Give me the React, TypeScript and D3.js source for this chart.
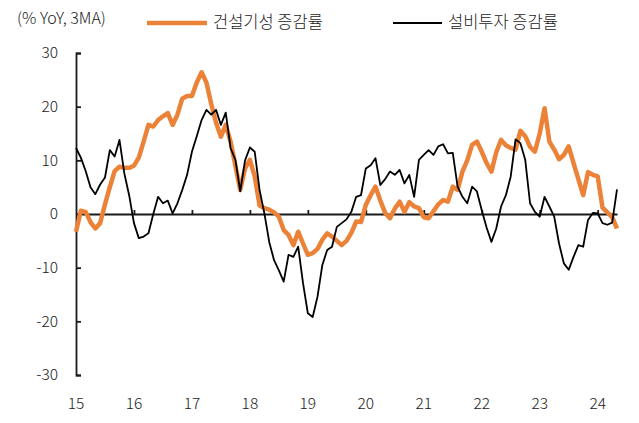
import { useEffect, useRef } from 'react';
import * as d3 from 'd3';

// monthly data, Jan 2015 .. May 2024 (% YoY, 3MA)
const yearLabels = ['15', '16', '17', '18', '19', '20', '21', '22', '23', '24'];
const yTicks = [-30, -20, -10, 0, 10, 20, 30];
const seriesNames = ['건설기성 증감률', '설비투자 증감률'];

const construction = [
    -3.3, 0.6, 0.4, -1.5, -2.7, -1.7, 1.8, 5, 8, 8.8, 8.6, 8.6,
    9, 10.5, 13.5, 16.6, 16.3, 17.5, 18.2, 18.8, 16.6, 18.5, 21.5, 22,
    22, 24.5, 26.4, 24.5, 20.5, 17, 14.4, 16.6, 13.5, 9, 4.5, 8.5,
    10.1, 7, 1.6, 1.1, 0.8, 0.3, -0.5, -3, -3.9, -5.8, -3.3, -5.5,
    -7.6, -7.3, -6.5, -4.8, -3.6, -4.2, -5, -5.8, -5, -3.5, -1.4, -1.5,
    1.7, 3.5, 5.1, 2.5, 0.2, -0.8, 1, 2.3, 0.4, 2.2, 1.4, 1.1,
    -0.6, -0.8, 0.5, 1.8, 2.6, 2.3, 5.1, 4.5, 7.9, 10, 12.9, 13.5,
    11.6, 9.5, 7.9, 11.5, 13.8, 12.8, 12.3, 12, 15.5, 14.5, 12.5, 11.6,
    15, 19.7, 13.5, 12, 10.2, 11, 12.6, 9.5, 6.5, 3.5, 7.8, 7.3,
    7, 1.2, 0.3, -0.6, -2.7,
];

const equipment = [
    12.3, 10.5, 8, 5, 3.7, 5.5, 6.8, 11.9, 10.7, 13.8, 7.6, 3.5,
    -1.7, -4.5, -4.2, -3.6, 0, 3.2, 2, 2.5, 0.1, 2, 4.5, 7.3,
    11.6, 14.5, 17.5, 19.4, 18.5, 19.4, 16.6, 18.9, 12.3, 10.1, 4.2, 10,
    12.4, 11.6, 4.5, 0.1, -5.2, -8.6, -10.5, -12.6, -7.6, -8, -6.1, -12.9,
    -18.5, -19.2, -15.4, -9.5, -6.7, -6.1, -2.4, -1.7, -1, 0.4, 3.2, 3.5,
    8.5, 9.1, 10.4, 5.4, 6.5, 7.9, 7.3, 8.2, 5.7, 7.3, 3.2, 10.1,
    11, 11.9, 11, 12.6, 13, 11.3, 11.4, 5.1, 3.2, 2, 5.1, 4.2,
    0.7, -2.5, -5.2, -2.7, 1.4, 3.5, 7, 13.9, 13.2, 10.1, 2, 0.4,
    -0.5, 3.2, 1.4, -0.5, -5.5, -9.2, -10.4, -8, -5.8, -6.1, -1.1, 0.2,
    0.1, -1.7, -2, -1.6, 4.6,
];

const width = 639;
const height = 423;
const plot = { left: 76, right: 617, top: 53, bottom: 375 };
const font = '"Noto Sans CJK KR", "Noto Sans", sans-serif';
const orange = '#EB8238';
const ink = '#1a1a1a';

const App = () => {
    const svgRef = useRef<SVGSVGElement>(null);

    useEffect(() => {
        const svg = d3.select(svgRef.current);
        svg.selectAll('*').remove();

        const last = construction.length - 1;
        const x = d3.scaleLinear().domain([0, last]).range([plot.left, plot.right]);
        const y = d3.scaleLinear().domain([-30, 30]).range([plot.bottom, plot.top]);

        // y axis, ticks pointing inside
        const yAxis = svg
            .append('g')
            .attr('transform', `translate(${plot.left},0)`)
            .call(d3.axisRight(y).tickValues(yTicks).tickSize(5).tickSizeOuter(5).tickFormat(() => ''));
        yAxis.selectAll('path, line').attr('stroke', ink).attr('stroke-width', 1.8);

        svg.append('g')
            .selectAll('text')
            .data(yTicks)
            .join('text')
            .attr('x', 58)
            .attr('y', d => y(d))
            .attr('dy', '0.35em')
            .attr('text-anchor', 'end')
            .attr('font-family', font)
            .attr('font-size', 15.5)
            .attr('font-weight', 300)
            .attr('fill', ink)
            .text(d => (d < 0 ? `-${-d}` : `${d}`));

        // zero line with year ticks
        const yearIdx = yearLabels.map((_, i) => i * 12);
        const xAxis = svg
            .append('g')
            .attr('transform', `translate(0,${y(0)})`)
            .call(d3.axisTop(x).tickValues(yearIdx.slice(1)).tickSize(4).tickSizeOuter(0).tickFormat(() => ''));
        xAxis.selectAll('path, line').attr('stroke', ink).attr('stroke-width', 1.8);

        svg.append('g')
            .selectAll('text')
            .data(yearLabels)
            .join('text')
            .attr('x', (_, i) => x(yearIdx[i]))
            .attr('y', 404)
            .attr('dy', '0.35em')
            .attr('text-anchor', 'middle')
            .attr('font-family', font)
            .attr('font-size', 15.5)
            .attr('font-weight', 300)
            .attr('fill', ink)
            .text(d => d);

        const line = d3
            .line<number>()
            .x((_, i) => x(i))
            .y(d => y(d));

        svg.append('path')
            .datum(construction)
            .attr('d', line)
            .attr('fill', 'none')
            .attr('stroke', orange)
            .attr('stroke-width', 4.5)
            .attr('stroke-linejoin', 'round');

        svg.append('path')
            .datum(equipment)
            .attr('d', line)
            .attr('fill', 'none')
            .attr('stroke', '#000')
            .attr('stroke-width', 1.8)
            .attr('stroke-linejoin', 'round');

        // unit label and legend
        svg.append('text')
            .attr('x', 17)
            .attr('y', 18)
            .attr('dy', '0.35em')
            .attr('font-family', font)
            .attr('font-size', 16)
            .attr('font-weight', 300)
            .attr('fill', ink)
            .text('(% YoY, 3MA)');

        const legend = [
            { name: seriesNames[0], x0: 147, x1: 207, color: orange, w: 4.5 },
            { name: seriesNames[1], x0: 393, x1: 442, color: '#000', w: 1.8 },
        ];
        const items = svg.append('g').selectAll('g').data(legend).join('g');
        items
            .append('line')
            .attr('x1', d => d.x0)
            .attr('x2', d => d.x1)
            .attr('y1', 23)
            .attr('y2', 23)
            .attr('stroke', d => d.color)
            .attr('stroke-width', d => d.w);
        items
            .append('text')
            .attr('x', d => d.x1 + 6)
            .attr('y', 22)
            .attr('dy', '0.35em')
            .attr('font-family', font)
            .attr('font-size', 16.5)
            .attr('font-weight', 300)
            .attr('fill', ink)
            .text(d => d.name);
    }, []);

    return (
        <svg
            ref={svgRef}
            width={width}
            height={height}
            style={{ position: 'absolute', left: 0, top: 0, background: '#fff' }}
        ></svg>
    );
};

export default App;
